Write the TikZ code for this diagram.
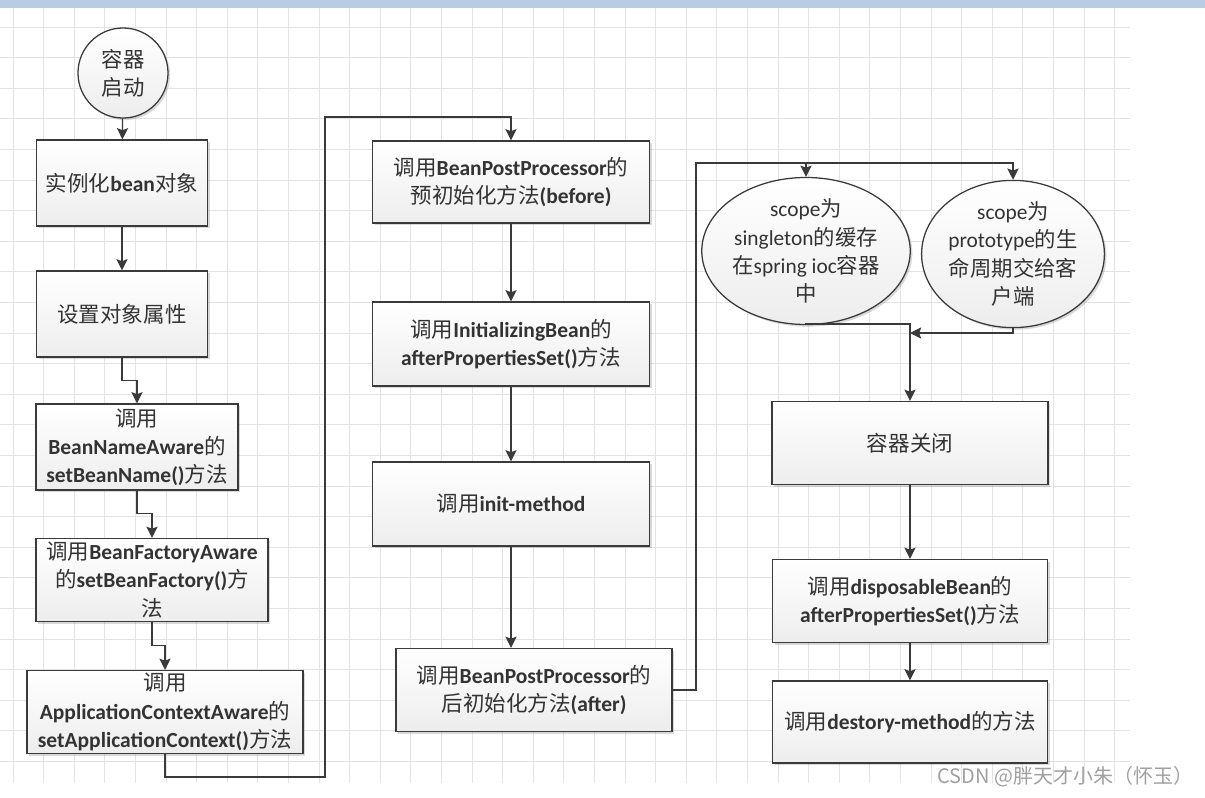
\documentclass[tikz,border=0pt]{standalone}
\usepackage{fontspec}
\setmainfont{Carlito}
\newfontfamily\zhfont{Noto Sans CJK SC}
\newcommand{\zh}[1]{{\zhfont\mdseries #1}}
\usetikzlibrary{shapes.geometric, arrows.meta, shadows}
\definecolor{linegray}{HTML}{3A3A3A}
\definecolor{bandblue}{HTML}{B8CCE4}

\begin{document}
\begin{tikzpicture}[x=0.025cm, y=-0.025cm,
    box/.style={rectangle, draw=linegray, line width=0.9pt, top color=white, bottom color=gray!14, drop shadow={shadow xshift=1.5pt, shadow yshift=-1.5pt, opacity=0.3}, minimum width=6.9cm, minimum height=2.1cm, inner sep=1pt, align=center, text=black!80, font=\fontsize{15.3}{20}\selectfont\bfseries},
    oval/.style={ellipse, draw=linegray, line width=0.9pt, top color=white, bottom color=gray!14, drop shadow={shadow xshift=1.5pt, shadow yshift=-1.5pt, opacity=0.3}, inner sep=0pt, align=center, text=black!80, font=\fontsize{15.2}{20}\selectfont},
    arrow/.style={-{Stealth[length=8pt, width=8pt, inset=1.5pt]}, draw=linegray, line width=0.9pt},
    gridline/.style={draw=gray!22, line width=0.6pt}
]
    \useasboundingbox (0,0) rectangle (1205,797);
    % Background grid
    \fill[bandblue] (0,0) rectangle (1205,8);
    \foreach \k in {0,...,36}
        \draw[gridline] ({13+30.6*\k},8) -- ({13+30.6*\k},783);
    \foreach \k in {0,...,24}
        \draw[gridline] (0,{27+30.6*\k}) -- (1130,{27+30.6*\k});

    % Nodes
    \node[oval, circle, minimum size=2.25cm] (start) at (123,73) {\zh{容器}\\\zh{启动}};
    \node[box, minimum width=4.275cm, minimum height=2.15cm] (inst) at (122,183) {\zh{实例化}bean\zh{对象}};
    \node[box, minimum width=4.275cm, minimum height=2.15cm] (props) at (122,314) {\zh{设置对象属性}};
    \node[box, minimum width=5.05cm, minimum height=2.15cm] (nameaware) at (137,447) {\zh{调用}\\BeanNameAware\zh{的}\\setBeanName()\zh{方法}};
    \node[box, minimum width=5.8cm, minimum height=2.075cm] (factoryaware) at (152,580) {\zh{调用}BeanFactoryAware\\\zh{的}setBeanFactory()\zh{方}\\\zh{法}};
    \node[box, minimum height=2.075cm] (ctxaware) at (165,712) {\zh{调用}\\ApplicationContextAware\zh{的}\\setApplicationContext()\zh{方法}};

    \node[box, minimum width=6.925cm, minimum height=2.05cm] (before) at (511,182) {\zh{调用}BeanPostProcessor\zh{的}\\\zh{预初始化方法}(before)};
    \node[box, minimum width=6.925cm] (initbean) at (511,344) {\zh{调用}InitializingBean\zh{的}\\afterPropertiesSet()\zh{方法}};
    \node[box, minimum width=6.925cm] (initmethod) at (511,504) {\zh{调用}init-method};
    \node[box, minimum height=2.075cm] (after) at (534,690) {\zh{调用}BeanPostProcessor\zh{的}\\\zh{后初始化方法}(after)};

    \node[oval, minimum width=4.8cm, minimum height=2.9cm] (single) at (806,251) {scope\zh{为}\\singleton\zh{的缓存}\\\zh{在}spring ioc\zh{容器}\\\zh{中}};
    \node[oval, minimum width=4.4cm, minimum height=3.05cm] (proto) at (1013,254) {scope\zh{为}\\prototype\zh{的生}\\\zh{命周期交给客}\\\zh{户端}};
    \node[box, minimum height=2.075cm] (close) at (910,443) {\zh{容器关闭}};
    \node[box, minimum width=6.875cm, minimum height=2.075cm] (dispose) at (910,601) {\zh{调用}disposableBean\zh{的}\\afterPropertiesSet()\zh{方法}};
    \node[box, minimum width=6.875cm, minimum height=2.05cm] (destroy) at (910,722) {\zh{调用}destory-method\zh{的方法}};

    \node[anchor=east, text=gray!75, font=\fontsize{14.2}{16}\selectfont\zhfont] (mark) at (1198,777) {CSDN @胖天才小朱（怀玉）};

    % Bend points
    \coordinate (low) at (325,777);
    \coordinate (high) at (325,117);
    \coordinate (rise) at (696,163);
    \coordinate (fork) at (806,163);
    \coordinate (join) at (910,324);
    \coordinate (joinb) at (910,333);

    % Connectors
    \draw[arrow] (start) -- (inst);
    \draw[arrow] (inst) -- (props);
    \draw[arrow] (props.south) -- ++(0,23) -| (nameaware.north);
    \draw[arrow] (nameaware.south) -- ++(0,23) -| (factoryaware.north);
    \draw[arrow] (factoryaware.south) -- ++(0,23) -| (ctxaware.north);
    \draw[arrow] (ctxaware.south) |- (low) -- (high) -| (before.north);

    \draw[arrow] (before) -- (initbean);
    \draw[arrow] (initbean) -- (initmethod);
    \draw[arrow] (initmethod.south) -- (initmethod.south |- after.north);
    \draw[arrow] (after.east) -| (rise) -- (fork) -- (single.north);
    \draw[arrow] (fork) -| (proto.north);

    \draw[arrow] (single.south) |- (join) -- (close.north);
    \draw[arrow] (proto.south) |- (joinb);
    \draw[arrow] (close) -- (dispose);
    \draw[arrow] (dispose) -- (destroy);
\end{tikzpicture}
\end{document}
